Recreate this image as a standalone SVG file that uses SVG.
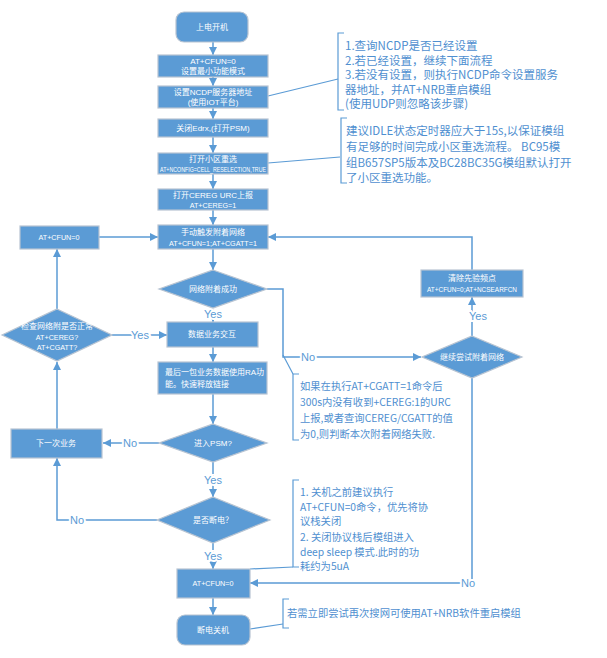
<svg xmlns="http://www.w3.org/2000/svg" width="607" height="658" viewBox="0 0 607 658">
<defs>
<marker id="ah" viewBox="0 0 10 10" refX="10" refY="5" markerWidth="8" markerHeight="8" markerUnits="userSpaceOnUse" orient="auto">
<path d="M0,0 L10,5 L0,10 z" fill="#5b9bd5"/>
</marker>
<style>
.n{fill:#5b9bd5;stroke:#b8c4d2;stroke-width:1.2}
.t{fill:#fff;font-family:"Liberation Sans","Noto Sans CJK SC",sans-serif;font-size:8px;text-anchor:middle}
.s{font-size:7.2px}
.c{fill:none;stroke:#5b9bd5;stroke-width:1.5}
.a{marker-end:url(#ah)}
.lb{fill:#5b9bd5;font-family:"Liberation Sans",sans-serif;font-size:11px;text-anchor:middle;paint-order:stroke;stroke:#fff;stroke-width:4}
.br{fill:none;stroke:#5b9bd5;stroke-width:1.2}
.ct{fill:#4f8fd0;font-family:"Noto Sans CJK SC",sans-serif;font-size:11.5px}
.cs{fill:#4f8fd0;font-family:"Noto Sans CJK SC",sans-serif;font-size:10.3px}
</style>
</defs>
<rect width="607" height="658" fill="#fff"/>
<g id="connectors">
<path class="c a" d="M213,42 V55"/>
<path class="c a" d="M213,77 V86"/>
<path class="c a" d="M213,108 V119"/>
<path class="c a" d="M213,137 V153"/>
<path class="c a" d="M213,174 V189"/>
<path class="c a" d="M213,210 V225"/>
<path class="c a" d="M213,249 V270"/>
<path class="c a" d="M213,308 V322"/>
<path class="c a" d="M213,347 V362"/>
<path class="c a" d="M213,394 V424"/>
<path class="c a" d="M213,462 V497"/>
<path class="c a" d="M213,543 V569"/>
<path class="c a" d="M213,598 V615"/>
<path class="c a" d="M159,443 H103"/>
<path class="c a" d="M157,520 H57 V458"/>
<path class="c a" d="M57,429 V362"/>
<path class="c a" d="M57,309 V249"/>
<path class="c a" d="M99,237 H158"/>
<path class="c a" d="M112,335 H167"/>
<path class="c a" d="M267,289 H283 V357 H421"/>
<path class="c a" d="M472,336 V297"/>
<path class="c a" d="M472,270 V237 H268"/>
<path class="c a" d="M472,378 V583 H250"/>
<path class="br" d="M268,96 L338,79"/>
<path class="br" d="M268,163 L340,157"/>
<path class="br" d="M283,355 L293,374"/>
<path class="br" d="M250,569 L293,567"/>
<path class="br" d="M250,629 L283,624"/>
<text class="lb" x="213" y="318">Yes</text>
<text class="lb" x="213" y="484">Yes</text>
<text class="lb" x="213" y="560">Yes</text>
<text class="lb" x="140" y="339">Yes</text>
<text class="lb" x="478" y="320">Yes</text>
<text class="lb" x="130" y="447">No</text>
<text class="lb" x="77" y="524">No</text>
<text class="lb" x="308" y="361">No</text>
<text class="lb" x="468" y="587">No</text>
</g>
<g id="start"><rect class="n" x="176" y="12" width="72" height="30" rx="8"/><text class="t" x="212" y="30">上电开机</text></g>
<g id="b1"><rect class="n" x="158" y="55" width="110" height="22"/><text class="t" x="213" y="64">AT+CFUN=0</text><text class="t" x="213" y="74">设置最小功能模式</text></g>
<g id="b2"><rect class="n" x="158" y="86" width="110" height="22"/><text class="t" x="213" y="95">设置NCDP服务器地址</text><text class="t" x="213" y="105">(使用IOT平台)</text></g>
<g id="b3"><rect class="n" x="158" y="119" width="110" height="18"/><text class="t" x="213" y="131">关闭Edrx,(打开PSM)</text></g>
<g id="b4"><rect class="n" x="158" y="153" width="110" height="21"/><text class="t" x="213" y="162">打开小区重选</text><text class="t s" x="160" y="172" style="text-anchor:start" textLength="106" lengthAdjust="spacingAndGlyphs">AT+NCONFIG=CELL_RESELECTION,TRUE</text></g>
<g id="b5"><rect class="n" x="158" y="189" width="110" height="21"/><text class="t" x="213" y="198">打开CEREG URC上报</text><text class="t s" x="213" y="208">AT+CEREG=1</text></g>
<g id="b6"><rect class="n" x="158" y="225" width="110" height="24"/><text class="t" x="213" y="235">手动触发附着网络</text><text class="t s" x="213" y="246">AT+CFUN=1;AT+CGATT=1</text></g>
<g id="d1"><path class="n" d="M213,270 L267,289 L213,308 L159,289 z"/><text class="t" x="213" y="292">网络附着成功</text></g>
<g id="b7"><rect class="n" x="167" y="322" width="91" height="25"/><text class="t" x="212" y="337">数据业务交互</text></g>
<g id="b8"><rect class="n" x="158" y="362" width="109" height="32"/><text class="t" x="165" y="375" style="text-anchor:start">最后一包业务数据使用RA功</text><text class="t" x="165" y="387" style="text-anchor:start">能。快速释放链接</text></g>
<g id="d2"><path class="n" d="M213,424 L267,443 L213,462 L159,443 z"/><text class="t" x="213" y="446">进入PSM?</text></g>
<g id="d3"><path class="n" d="M213,497 L270,520 L213,543 L157,520 z"/><text class="t" x="213" y="523">是否断电？</text></g>
<g id="b9"><rect class="n" x="177" y="569" width="73" height="29"/><text class="t s" x="213" y="586">AT+CFUN=0</text></g>
<g id="end"><rect class="n" x="177" y="615" width="73" height="30" rx="8"/><text class="t" x="213" y="633">断电关机</text></g>
<g id="l1"><rect class="n" x="20" y="226" width="79" height="23"/><text class="t s" x="59" y="240">AT+CFUN=0</text></g>
<g id="ld"><path class="n" d="M57,309 L112,335 L57,361 L2,335 z"/><text class="t" x="57" y="329">检查网络附是否正常</text><text class="t s" x="57" y="340">AT+CEREG?</text><text class="t s" x="57" y="350">AT+CGATT?</text></g>
<g id="l2"><rect class="n" x="11" y="429" width="91" height="29"/><text class="t" x="56" y="446">下一次业务</text></g>
<g id="r1"><rect class="n" x="421" y="270" width="102" height="27"/><text class="t" x="472" y="281">清除先验频点</text><text class="t" x="427" y="292" style="text-anchor:start;font-size:7px" textLength="90" lengthAdjust="spacingAndGlyphs">AT+CFUN=0;AT+NCSEARFCN</text></g>
<g id="rd"><path class="n" d="M472,336 L522,357 L472,378 L422,357 z"/><text class="t" x="472" y="360">继续尝试附着网络</text></g>
<g id="c1"><path class="br" d="M344,33 H338 V110 H344"/>
<text class="ct" x="345" y="50">1.查询NCDP是否已经设置</text>
<text class="ct" x="345" y="64.5">2.若已经设置，继续下面流程</text>
<text class="ct" x="345" y="79">3.若没有设置，则执行NCDP命令设置服务</text>
<text class="ct" x="345" y="93.5">器地址，并AT+NRB重启模组</text>
<text class="ct" x="345" y="108">(使用UDP则忽略该步骤)</text></g>
<g id="c2"><path class="br" d="M347,118 H341 V183 H347"/>
<text class="ct" x="346" y="135">建议IDLE状态定时器应大于15s,以保证模组</text>
<text class="ct" x="346" y="151">有足够的时间完成小区重选流程。 BC95模</text>
<text class="ct" x="346" y="167">组B657SP5版本及BC28BC35G模组默认打开</text>
<text class="ct" x="346" y="182">了小区重选功能。</text></g>
<g id="c3"><path class="br" d="M299,374 H293 V440 H299"/>
<text class="cs" x="300" y="390">如果在执行AT+CGATT=1命令后</text>
<text class="cs" x="300" y="406">300s内没有收到+CEREG:1的URC</text>
<text class="cs" x="300" y="422">上报,或者查询CEREG/CGATT的值</text>
<text class="cs" x="300" y="438">为0,则判断本次附着网络失败.</text></g>
<g id="c4"><path class="br" d="M299,480 H293 V567 H299"/>
<text class="cs" x="300" y="496">1. 关机之前建议执行</text>
<text class="cs" x="300" y="511">AT+CFUN=0命令，优先将协</text>
<text class="cs" x="300" y="525">议栈关闭</text>
<text class="cs" x="300" y="541">2. 关闭协议栈后模组进入</text>
<text class="cs" x="300" y="556">deep sleep 模式.此时的功</text>
<text class="cs" x="300" y="570">耗约为5uA</text></g>
<g id="c5"><path class="br" d="M289,599 H283 V628 H289"/>
<text class="cs" x="287" y="617">若需立即尝试再次搜网可使用AT+NRB软件重启模组</text></g>
</svg>
